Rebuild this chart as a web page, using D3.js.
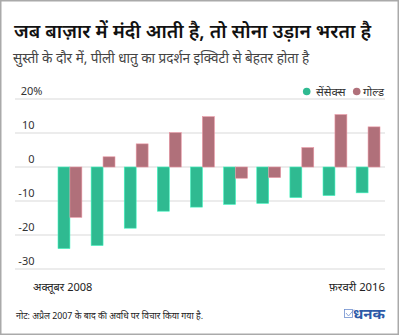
<!DOCTYPE html>
<html>
<head>
<meta charset="utf-8">
<script src="https://cdn.jsdelivr.net/npm/d3@7"></script>
<style>
  html, body { margin: 0; padding: 0; background: #fff; }
  svg { display: block; font-family: "Noto Sans", sans-serif; }
</style>
</head>
<body>
<svg id="chart" width="400" height="336"></svg>
<script>
// ten slowdown periods; only the first and last get a label under the axis
const periods = ['p1', 'p2', 'p3', 'p4', 'p5', 'p6', 'p7', 'p8', 'p9', 'p10'];
const sensex = [-24.0, -23.1, -18.0, -13.0, -11.8, -11.0, -10.7, -9.0, -8.4, -7.6];
const gold = [-14.8, 3.0, 6.8, 10.1, 14.8, -3.3, -3.1, 5.7, 15.4, 11.8];
const yTicks = [20, 10, 0, -10, -20, -30];
const seriesNames = ['सेंसेक्स', 'गोल्ड'];
const xEndLabels = ['अक्तूबर 2008', 'फ़रवरी 2016'];

const colors = { sensex: '#2fba91', gold: '#b0707a' };

const svg = d3.select('#chart');

// outer frame
svg.append('rect')
    .attr('x', 0.75).attr('y', 0.75)
    .attr('width', 397.5).attr('height', 333.5)
    .attr('fill', 'none')
    .attr('stroke', '#aaa')
    .attr('stroke-width', 1.5);

svg.append('text')
    .attr('x', 14).attr('y', 38)
    .attr('font-size', 19.2)
    .attr('font-weight', 600)
    .attr('fill', '#111')
    .text('जब बाज़ार में मंदी आती है, तो सोना उड़ान भरता है');

svg.append('text')
    .attr('x', 13).attr('y', 63)
    .attr('font-size', 13.5)
    .attr('fill', '#444')
    .text('सुस्ती के दौर में, पीली धातु का प्रदर्शन इक्विटी से बेहतर होता है');

const y = d3.scaleLinear().domain([-30, 20]).range([269, 99]);

const x = d3.scaleBand()
    .domain(periods)
    .range([58, 380])
    .paddingInner(0.28)
    .paddingOuter(0);

const xInner = d3.scaleBand()
    .domain(['sensex', 'gold'])
    .range([0, x.bandwidth()]);

// gridlines + tick labels sitting just above each line
const grid = svg.append('g');
grid.selectAll('line')
    .data(yTicks)
    .enter().append('line')
    .attr('x1', 15).attr('x2', 385)
    .attr('y1', d => y(d)).attr('y2', d => y(d))
    .attr('stroke', '#e6e6e6')
    .attr('stroke-width', 1.5);

grid.selectAll('text')
    .data(yTicks)
    .enter().append('text')
    .attr('x', 34.5)
    .attr('y', d => y(d) - 4)
    .attr('text-anchor', 'end')
    .attr('font-size', 11)
    .attr('fill', '#333')
    .text(d => d);

// the top label carries the unit, hanging past the right edge of the numbers
grid.select('text')
    .attr('text-anchor', 'start')
    .attr('x', 20.7)
    .text(yTicks[0] + '%');

const rows = periods.map((p, i) => ({ period: p, sensex: sensex[i], gold: gold[i] }));

const groups = svg.append('g')
    .selectAll('g')
    .data(rows)
    .enter().append('g')
    .attr('transform', d => `translate(${x(d.period)},0)`);

groups.selectAll('rect')
    .data(d => ['sensex', 'gold'].map(k => ({ key: k, value: d[k] })))
    .enter().append('rect')
    .attr('x', d => xInner(d.key))
    .attr('width', xInner.bandwidth())
    .attr('y', d => y(Math.max(0, d.value)))
    .attr('height', d => Math.abs(y(d.value) - y(0)))
    .attr('fill', d => colors[d.key])
    .attr('stroke', d => d3.color(colors[d.key]).brighter(0.8))
    .attr('stroke-width', 0.6);

// legend
const legend = svg.append('g');
legend.append('circle').attr('cx', 306.7).attr('cy', 91.5).attr('r', 3.8).attr('fill', colors.sensex);
legend.append('text').attr('x', 316).attr('y', 95.5).attr('font-size', 11.5).attr('fill', '#333').text(seriesNames[0]);
legend.append('circle').attr('cx', 356.7).attr('cy', 91.5).attr('r', 3.8).attr('fill', colors.gold);
legend.append('text').attr('x', 363).attr('y', 95.5).attr('font-size', 11.3).attr('fill', '#333').text(seriesNames[1]);

// first / last period labels
svg.append('text')
    .attr('x', 33).attr('y', 291)
    .attr('font-size', 11)
    .attr('fill', '#222')
    .text(xEndLabels[0]);
svg.append('text')
    .attr('x', 385).attr('y', 291)
    .attr('text-anchor', 'end')
    .attr('font-size', 11.3)
    .attr('fill', '#222')
    .text(xEndLabels[1]);

svg.append('text')
    .attr('x', 16).attr('y', 319)
    .attr('font-size', 8.8)
    .attr('fill', '#222')
    .text('नोट: अप्रैल 2007 के बाद की अवधि पर विचार किया गया है.');

// logo: tick box + wordmark
svg.append('text')
    .attr('x', 385).attr('y', 319)
    .attr('text-anchor', 'end')
    .attr('font-size', 15)
    .attr('font-weight', 700)
    .attr('fill', '#2d5aa8')
    .text('धनक');
svg.append('rect')
    .attr('x', 344.5).attr('y', 309.5)
    .attr('width', 8).attr('height', 8)
    .attr('fill', 'none')
    .attr('stroke', '#6f8fcf')
    .attr('stroke-width', 0.8);
svg.append('path')
    .attr('d', 'M346,313 L348.5,316 L354,309.5')
    .attr('fill', 'none')
    .attr('stroke', '#6f8fcf')
    .attr('stroke-width', 0.8);
</script>
</body>
</html>
